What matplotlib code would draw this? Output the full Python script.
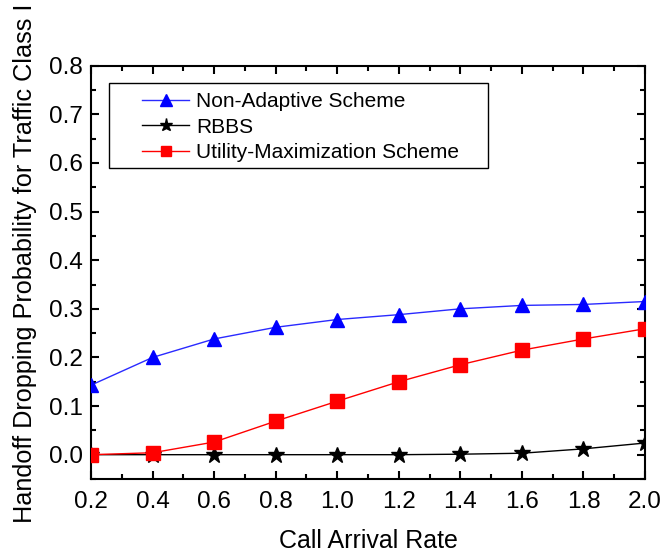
import matplotlib
matplotlib.use("Agg")
import matplotlib.pyplot as plt
from matplotlib.ticker import MultipleLocator
from matplotlib.patches import Rectangle

x = [0.2, 0.4, 0.6, 0.8, 1.0, 1.2, 1.4, 1.6, 1.8, 2.0]
non_adaptive = [0.143, 0.200, 0.238, 0.262, 0.278, 0.288, 0.300, 0.307, 0.309, 0.315]
rbbs = [0.0, 0.0, 0.0, 0.0, 0.0, 0.0, 0.001, 0.003, 0.012, 0.024]
utility = [0.0, 0.004, 0.026, 0.069, 0.110, 0.150, 0.185, 0.215, 0.238, 0.259]

plt.rcParams['font.family'] = ['Liberation Sans', 'DejaVu Sans']

fig = plt.figure(figsize=(6.65, 5.56), dpi=100)
L, R, T, B = 91, 645, 65.7, 479
ax = fig.add_axes([L/665, 1-B/556, (R-L)/665, (B-T)/556])

ax.plot(x, non_adaptive, color='#2a2aff', lw=1, marker='^', ms=10, mfc='blue', mec='blue',
        label='Non-Adaptive Scheme', zorder=3)
ax.plot(x, rbbs, color='black', lw=1, marker='*', ms=12, mfc='black', mec='black',
        label='RBBS', zorder=3)
ax.plot(x, utility, color='red', lw=1, marker='s', ms=9.5, mfc='red', mec='red',
        label='Utility-Maximization Scheme', zorder=3)

ax.set_xlim(0.2, 2.0)
ax.set_ylim(-0.05, 0.8)
ax.xaxis.set_minor_locator(MultipleLocator(0.1))
ax.yaxis.set_minor_locator(MultipleLocator(0.05))
ax.set_xticks([0.2, 0.4, 0.6, 0.8, 1.0, 1.2, 1.4, 1.6, 1.8, 2.0])
ax.set_xticklabels(['0.2', '0.4', '0.6', '0.8', '1.0', '1.2', '1.4', '1.6', '1.8', '2.0'])
ax.set_yticks([0.0, 0.1, 0.2, 0.3, 0.4, 0.5, 0.6, 0.7, 0.8])
ax.set_yticklabels(['0.0', '0.1', '0.2', '0.3', '0.4', '0.5', '0.6', '0.7', '0.8'])

ax.tick_params(which='both', direction='in', top=True, right=True, width=1.5, labelsize=17.5)
ax.tick_params(which='major', length=6, pad=6)
ax.tick_params(axis='x', which='major', pad=8.5)
ax.tick_params(which='minor', length=3.5)
for s in ax.spines.values():
    s.set_linewidth(1.5)

ax.set_xlabel('Call Arrival Rate', fontsize=18, labelpad=12)
ax.set_ylabel('Handoff Dropping Probability for Traffic Class I', fontsize=18.2)
W, H = R - L, B - T
ax.yaxis.set_label_coords(-(L-37)/W, 1-(263-T)/H)

box = Rectangle(((109-L)/W, 1-(168-T)/H), (488-109)/W, (168-83)/H, transform=ax.transAxes,
                fill=True, facecolor='white', edgecolor='black', lw=1, zorder=4)
ax.add_patch(box)
leg = ax.legend(loc='upper left', bbox_to_anchor=((142-L)/W, 1-(92.5-T)/H),
                fontsize=15, frameon=False, borderaxespad=0, borderpad=0,
                handlelength=2.26, handletextpad=0.34, markerscale=0.8,
                labelspacing=0.3)
leg.set_zorder(5)

fig.savefig('out.png', dpi=100)
